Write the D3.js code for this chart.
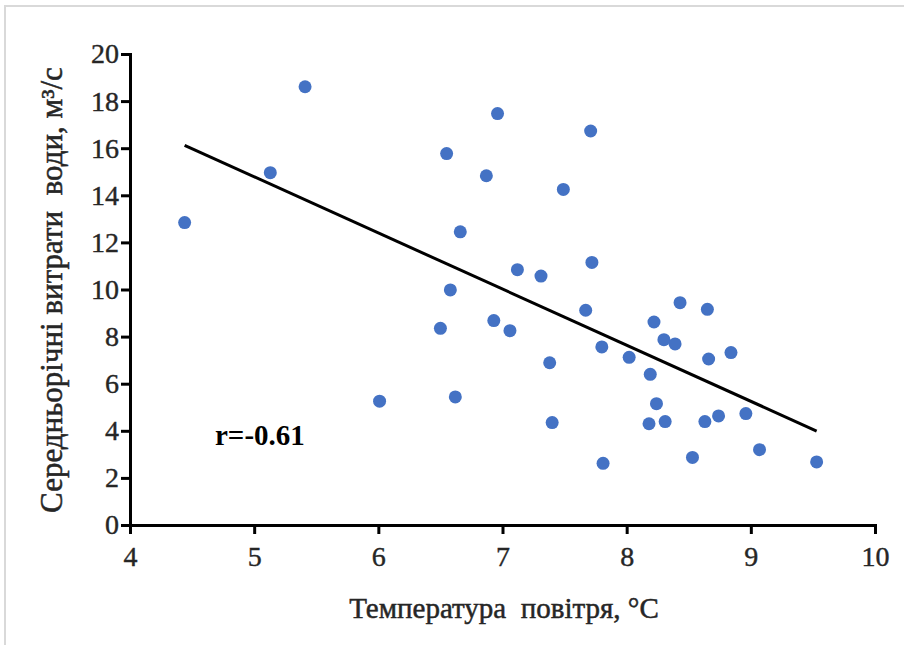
<!DOCTYPE html>
<html><head><meta charset="utf-8">
<script src="https://cdn.jsdelivr.net/npm/d3@7"></script>
<style>
html,body{margin:0;padding:0;background:#fff;}
svg text.tl, svg g text.tl { font-family: 'Liberation Serif', 'Times New Roman', serif !important; font-size: 28px !important; font-weight: normal !important; }
</style>
</head><body>
<script>
const tempX = [4.44,5.13,5.41,6.01,6.50,6.55,6.58,6.62,6.66,6.87,6.93,6.96,7.06,7.12,7.31,7.38,7.40,7.49,7.67,7.71,7.72,7.80,7.81,8.02,8.18,8.19,8.22,8.24,8.30,8.31,8.39,8.43,8.53,8.63,8.65,8.66,8.74,8.84,8.96,9.07,9.53];
const flowY = [12.84,14.96,18.61,5.26,8.35,15.77,9.98,5.44,12.45,14.83,8.68,17.47,8.25,10.84,10.57,6.89,4.35,14.25,9.12,16.73,11.15,7.56,2.62,7.12,4.30,6.40,8.62,5.15,7.87,4.39,7.69,9.44,2.87,4.39,9.16,7.05,4.63,7.32,4.73,3.20,2.68];
const trendX = [4.44, 9.53];
const trendY = [16.12, 3.99];
const xTicks = [4,5,6,7,8,9,10];
const yTicks = [0,2,4,6,8,10,12,14,16,18,20];
const xTitle = "Температура  повітря, °C";
const yTitle = "Середньорічні витрати  води, м³/с";
const rLabel = "r=-0.61";

const W = 904, H = 645;
const svg = d3.select("body").append("svg").attr("width", W).attr("height", H);
svg.append("rect").attr("x", 5).attr("y", 6).attr("width", W + 10).attr("height", H + 10)
  .attr("fill", "#fff").attr("stroke", "#d9d9d9").attr("stroke-width", 2);

const x = d3.scaleLinear().domain([4, 10]).range([130, 875]);
const y = d3.scaleLinear().domain([0, 20]).range([525, 54]);
const font = "'Liberation Serif', 'Times New Roman', serif";
const labelColor = "#262626";

const xAxis = svg.append("g").attr("transform", "translate(0,525)")
  .call(d3.axisBottom(x).tickValues(xTicks).tickSize(9).tickPadding(12).tickFormat(d3.format("d")));
const yAxis = svg.append("g").attr("transform", "translate(130,0)")
  .call(d3.axisLeft(y).tickValues(yTicks).tickSize(9).tickPadding(2).tickFormat(d3.format("d")));
[xAxis, yAxis].forEach(g => {
  g.attr("font-family", font).attr("font-size", 28);
  g.select(".domain").attr("stroke", "#000").attr("stroke-width", 3);
  g.selectAll(".tick line").attr("stroke", "#000").attr("stroke-width", 3);
  g.selectAll(".tick text").attr("class", "tl").attr("fill", labelColor)
    .attr("stroke", labelColor).attr("stroke-width", 0.4);
});

svg.append("g").selectAll("circle").data(tempX).join("circle")
  .attr("cx", d => x(d)).attr("cy", (d, i) => y(flowY[i])).attr("r", 6.5)
  .attr("fill", "#4472C4");

svg.append("line")
  .attr("x1", x(trendX[0])).attr("y1", y(trendY[0]))
  .attr("x2", x(trendX[1])).attr("y2", y(trendY[1]))
  .attr("stroke", "#000").attr("stroke-width", 3);

svg.append("text").attr("x", 215).attr("y", 445).text(rLabel)
  .attr("font-family", font).attr("font-size", 29).attr("font-weight", "bold").attr("fill", "#000");

svg.append("text").attr("x", 504).attr("y", 618).attr("text-anchor", "middle").text(xTitle)
  .attr("font-family", font).attr("font-size", 29).attr("fill", labelColor)
  .attr("stroke", labelColor).attr("stroke-width", 0.5)
  .style("white-space", "pre");

svg.append("text").attr("transform", "translate(62,290) rotate(-90)").attr("text-anchor", "middle").text(yTitle)
  .attr("font-family", font).attr("font-size", 31).attr("fill", labelColor)
  .attr("stroke", labelColor).attr("stroke-width", 0.5)
  .style("white-space", "pre");
</script>
</body></html>
